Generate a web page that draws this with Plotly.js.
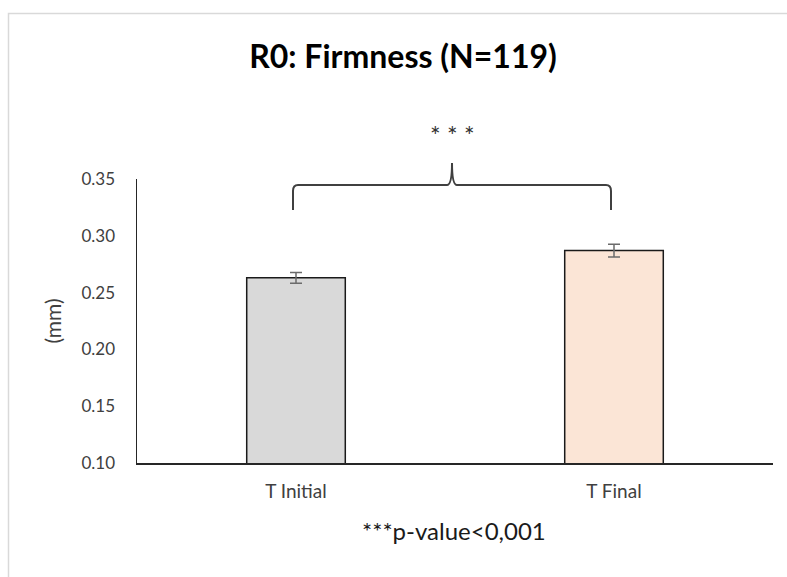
<!DOCTYPE html>
<html>
<head>
<meta charset="utf-8">
<script src="https://cdn.plot.ly/plotly-3.0.1.min.js"></script>
<style>html,body{margin:0;padding:0;background:#fff;}#chart{width:787px;height:577px;}</style>
</head>
<body>
<div id="chart"></div>
<script>
const categories = ["T Initial", "T Final"];
const values = [0.263, 0.287];
const errors = [0.0047, 0.0056];
const barColors = ["#d9d9d9", "#fbe5d6"];
const yTicks = [0.10, 0.15, 0.20, 0.25, 0.30, 0.35];
const yTickLabels = ["0.10", "0.15", "0.20", "0.25", "0.30", "0.35"];

const FONT = "Lato, 'Open Sans', sans-serif";
const TXT = "#404040";

const trace = {
  type: "bar",
  x: categories,
  y: values,
  marker: {color: barColors, line: {color: "#1a1a1a", width: 1.5}},
  error_y: {type: "data", array: errors, visible: true, color: "#6b6b6b", thickness: 1.5, width: 6},
  hoverinfo: "skip"
};

const L = 137, R = 14, T = 179, B = 114, W = 787, H = 577;
const pw = W - L - R, ph = H - T - B;
const px = v => (v - L) / pw;
const py = v => (H - B - v) / ph;

const x0 = px(293), x1 = px(611), xm = px(452);
const yEnd = py(210), yH = py(185), yTip = py(163);
const r = 5 / pw, rv = 6 / ph;
const bracePath =
  `M ${x0} ${yEnd} L ${x0} ${yH - rv} Q ${x0} ${yH} ${x0 + r} ${yH} ` +
  `L ${xm - r} ${yH} Q ${xm} ${yH} ${xm} ${yTip} ` +
  `Q ${xm} ${yH} ${xm + r} ${yH} ` +
  `L ${x1 - r} ${yH} Q ${x1} ${yH} ${x1} ${yH - rv} L ${x1} ${yEnd}`;

const layout = {
  width: W, height: H,
  margin: {l: L, r: R, t: T, b: B},
  paper_bgcolor: "#ffffff",
  plot_bgcolor: "#ffffff",
  showlegend: false,
  bargap: 0.69,
  font: {family: FONT, color: TXT, size: 17},
  title: {
    text: "<b>R0: Firmness (N=119)</b>",
    font: {family: FONT, size: 32, color: "#000000"},
    x: 403 / W, xanchor: "center", xref: "container",
    y: 1 - 57 / H, yanchor: "middle", yref: "container"
  },
  xaxis: {
    type: "category",
    showline: true, linecolor: "#262626", linewidth: 1.5,
    ticks: "", showgrid: false, zeroline: false,
    tickfont: {family: FONT, size: 19, color: TXT},
    ticklabelstandoff: 11
  },
  yaxis: {
    range: [0.10, 0.35],
    tickvals: yTicks, ticktext: yTickLabels,
    showline: true, linecolor: "#262626", linewidth: 1.5,
    ticks: "", showgrid: false, zeroline: false,
    tickfont: {family: FONT, size: 17, color: TXT},
    ticklabelstandoff: 17,
    title: {text: "(mm)", font: {family: FONT, size: 21, color: TXT}, standoff: 14}
  },
  shapes: [
    {type: "rect", xref: "paper", yref: "paper",
     x0: px(8.5), x1: px(800), y0: py(13.5), y1: py(600),
     line: {color: "#d9d9d9", width: 1.5}, fillcolor: "rgba(0,0,0,0)", layer: "below"},
    {type: "path", xref: "paper", yref: "paper", path: bracePath,
     line: {color: "#404040", width: 2}}
  ],
  annotations: [
    {text: "* * *", xref: "paper", yref: "paper", x: xm, y: py(135),
     showarrow: false, font: {family: FONT, size: 25, color: "#333333"}, xanchor: "center", yanchor: "middle"},
    {text: "***p-value<0,001", xref: "paper", yref: "paper", x: px(454), y: py(530),
     showarrow: false, font: {family: FONT, size: 24, color: "#1a1a1a"}, xanchor: "center", yanchor: "middle"}
  ]
};

Plotly.newPlot("chart", [trace], layout, {displayModeBar: false, staticPlot: true});
</script>
</body>
</html>
